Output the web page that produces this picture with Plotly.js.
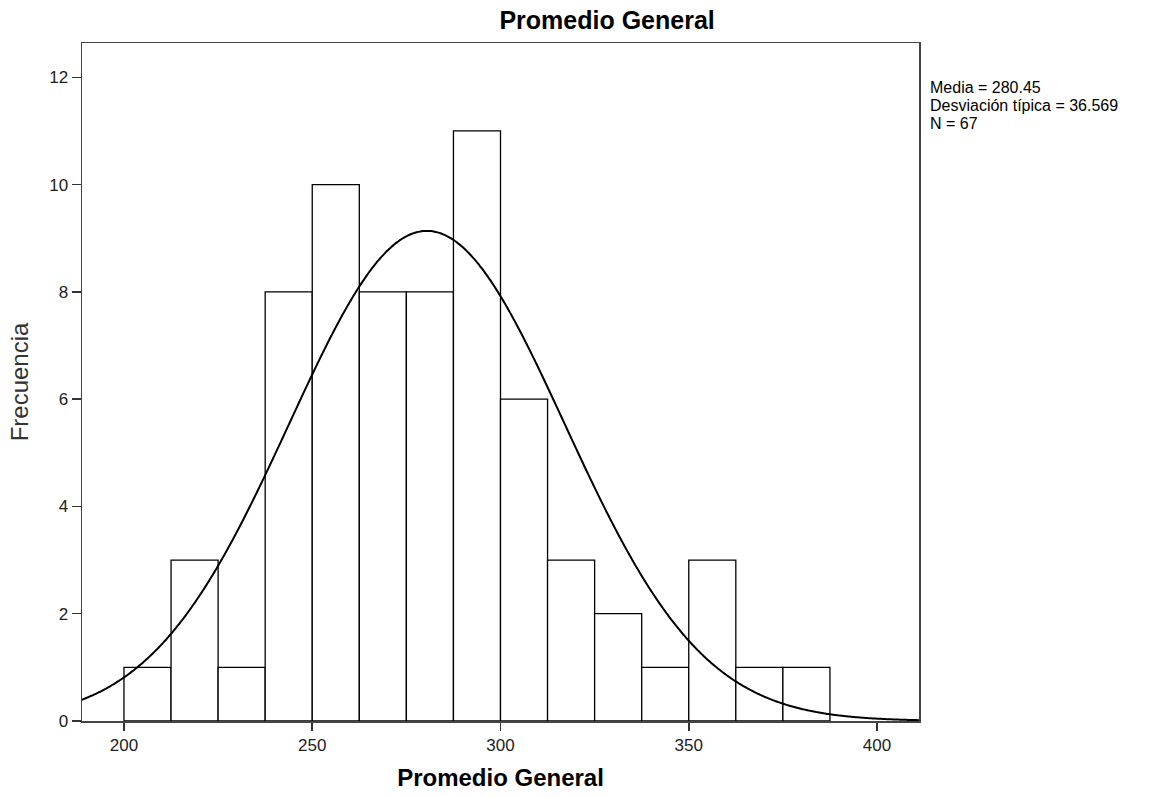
<!DOCTYPE html>
<html>
<head>
<meta charset="utf-8">
<script src="https://cdn.plot.ly/plotly-3.0.1.min.js"></script>
<style>html,body{margin:0;padding:0;background:#fff;}#chart{width:1152px;height:798px;}</style>
</head>
<body>
<div id="chart"></div>
<script>
// Histogram bins (lower edges) and frequencies
const binStarts = [200, 212.5, 225, 237.5, 250, 262.5, 275, 287.5, 300, 312.5, 325, 337.5, 350, 362.5, 375];
const frequencies = [1, 3, 1, 8, 10, 8, 8, 11, 6, 3, 2, 1, 3, 1, 1];
const binWidth = 12.5;
// Stated summary statistics
const mean = 280.45;
const sd = 36.569;
const n = 67;
const statLines = ["Media = 280.45", "Desviación típica = 36.569", "N = 67"];
const xTicks = [200, 250, 300, 350, 400];
const yTicks = [0, 2, 4, 6, 8, 10, 12];

const centers = binStarts.map(s => s + binWidth / 2);

// Fitted normal curve from the stated mean, sd and N (as in the original)
const curveX = [];
const curveY = [];
for (let x = 185; x <= 412; x += 0.5) {
  curveX.push(x);
  const z = (x - mean) / sd;
  curveY.push(n * binWidth * Math.exp(-0.5 * z * z) / (sd * Math.sqrt(2 * Math.PI)));
}

const font = "Liberation Sans, Arial, sans-serif";

const traces = [
  {
    type: "bar",
    x: centers,
    y: frequencies,
    width: binWidth,
    marker: {color: "#ffffff", line: {color: "#000000", width: 1.3}},
    hoverinfo: "x+y"
  },
  {
    type: "scatter",
    mode: "lines",
    x: curveX,
    y: curveY,
    line: {color: "#000000", width: 2, shape: "spline"},
    hoverinfo: "skip"
  }
];

// plot area: top 43px, bottom 721px
const plotTop = 43, plotBottom = 721;
const py = p => (plotBottom - p) / (plotBottom - plotTop);
const statY = [87, 105.5, 124];

const layout = {
  width: 1152,
  height: 798,
  margin: {l: 82, r: 233, t: 43, b: 77},
  paper_bgcolor: "#ffffff",
  plot_bgcolor: "#ffffff",
  showlegend: false,
  bargap: 0,
  title: {
    text: "<b>Promedio General</b>",
    font: {family: font, size: 25, color: "#000000"},
    x: 0.527, xanchor: "center",
    y: 0.974, yanchor: "middle"
  },
  xaxis: {
    range: [188.85, 411.15],
    tickvals: xTicks,
    ticks: "outside", ticklen: 8, tickwidth: 1.5, tickcolor: "#333",
    tickfont: {family: font, size: 17, color: "#222"},
    showgrid: false, zeroline: false,
    showline: true, linecolor: "#444", linewidth: 1.5, mirror: true,
    title: {text: "<b>Promedio General</b>", font: {family: font, size: 24, color: "#000"}, standoff: 15}
  },
  yaxis: {
    range: [0, 12.64],
    tickvals: yTicks,
    ticks: "outside", ticklen: 9, tickwidth: 1.5, tickcolor: "#333",
    tickfont: {family: font, size: 17, color: "#222"},
    showgrid: false, zeroline: false,
    showline: true, linecolor: "#444", linewidth: 1.5, mirror: true,
    title: {text: "Frecuencia", font: {family: font, size: 24, color: "#333"}, standoff: 14}
  },
  annotations: statLines.map((t, i) => ({
    xref: "paper", yref: "paper",
    x: 1.0, y: py(statY[i]), xshift: 9,
    xanchor: "left", yanchor: "middle", align: "left",
    showarrow: false,
    text: t,
    font: {family: font, size: 16, color: "#000"}
  }))
};

Plotly.newPlot("chart", traces, layout, {displayModeBar: false, staticPlot: true});
</script>
</body>
</html>
